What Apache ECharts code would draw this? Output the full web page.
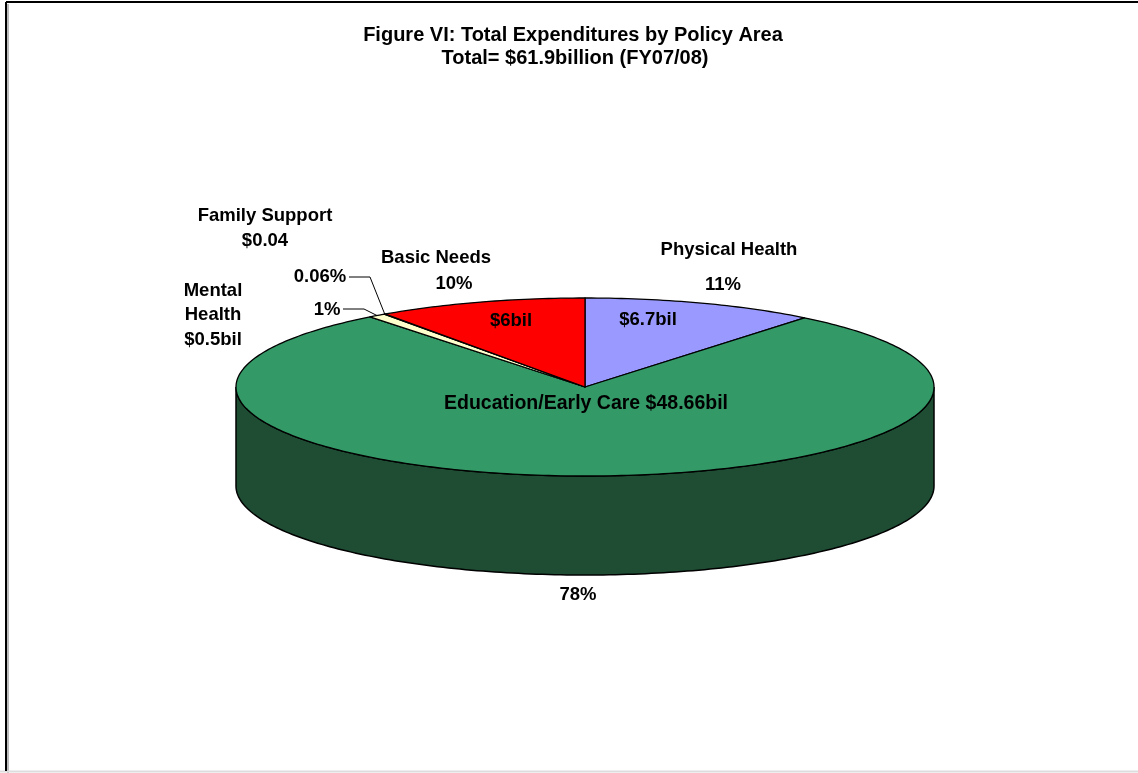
<!DOCTYPE html>
<html>
<head>
<meta charset="utf-8">
<title>Total Expenditures by Policy Area</title>
<script src="https://cdn.jsdelivr.net/npm/echarts@6/dist/echarts.min.js"></script>
<style>
  html, body { margin: 0; padding: 0; background: #ffffff; }
  #chart { width: 1138px; height: 773px; }
</style>
</head>
<body>
<div id="chart"></div>
<script>
// Policy areas, in clockwise order starting at 12 o'clock
const categories = ['Physical Health', 'Education/Early Care', 'Mental Health', 'Family Support', 'Basic Needs'];
// Expenditures in billions of dollars
const values = [6.7, 48.66, 0.5, 0.04, 6];
// Percent labels as printed on the chart
const percentLabels = ['11%', '78%', '1%', '0.06%', '10%'];
// Amount labels as printed on the chart
const amountLabels = ['$6.7bil', '$48.66bil', '$0.5bil', '$0.04', '$6bil'];

const topColors = ['#9999FF', '#339966', '#FFFFCC', '#993366', '#FF0000'];
const sideColors = ['#4D4D80', '#1E4D34', '#80805F', '#4D1A33', '#800000'];

// Pie geometry (tilted ellipse with depth)
const CX = 585, CY = 387, RX = 349, RY = 89, DEPTH = 99;
const total = values.reduce((a, b) => a + b, 0);

// angle is clockwise from 12 o'clock, radians
function rim(theta, dy) {
  return [CX + RX * Math.sin(theta), CY - RY * Math.cos(theta) + (dy || 0)];
}
function arc(a0, a1, dy) {
  const pts = [];
  const n = Math.max(2, Math.ceil(Math.abs(a1 - a0) / (Math.PI / 180)));
  for (let i = 0; i <= n; i++) pts.push(rim(a0 + (a1 - a0) * i / n, dy));
  return pts;
}

// data rows: [value, cumulative value before this slice]
const rows = [];
let acc = 0;
values.forEach(v => { rows.push([v, acc]); acc += v; });

function sliceAngles(api) {
  const v = api.value(0), before = api.value(1);
  return [before / total * Math.PI * 2, (before + v) / total * Math.PI * 2];
}

function renderSide(params, api) {
  const [a0, a1] = sliceAngles(api);
  const s = Math.max(a0, Math.PI / 2), e = Math.min(a1, Math.PI * 1.5);
  if (s >= e) return null;
  const pts = arc(s, e, 0).concat(arc(e, s, DEPTH));
  return {
    type: 'polygon',
    shape: { points: pts },
    style: { fill: sideColors[params.dataIndex], stroke: '#000000', lineWidth: 1.5 }
  };
}

function renderTop(params, api) {
  const [a0, a1] = sliceAngles(api);
  const pts = [[CX, CY]].concat(arc(a0, a1, 0));
  return {
    type: 'polygon',
    shape: { points: pts },
    style: { fill: topColors[params.dataIndex], stroke: '#000000', lineWidth: 1.3, lineJoin: 'round' }
  };
}

// leader line anchors on the rim for the two thin slices
function midAngle(i) {
  return (rows[i][1] + rows[i][0] / 2) / total * Math.PI * 2;
}
const famAnchor = rim(midAngle(3));
const mentAnchor = rim(midAngle(2));

const FONT = '"Liberation Sans", Arial, sans-serif';
function label(x, y, text, size) {
  return {
    type: 'text', x: x, y: y, z: 100,
    style: {
      text: text, fill: '#000000', font: 'bold ' + (size || 18.5) + 'px ' + FONT,
      align: 'center', verticalAlign: 'middle', lineHeight: 24.5
    }
  };
}

const chart = echarts.init(document.getElementById('chart'), null, { renderer: 'canvas' });
chart.setOption({
  backgroundColor: '#ffffff',
  animation: false,
  series: [
    { type: 'custom', coordinateSystem: 'none', z: 1, data: rows, renderItem: renderSide, silent: true },
    { type: 'custom', coordinateSystem: 'none', z: 2, data: rows, renderItem: renderTop, silent: true }
  ],
  graphic: [
    // frame
    { type: 'line', shape: { x1: 8, y1: 4, x2: 8, y2: 773 }, style: { stroke: '#bbbbbb', lineWidth: 2 } },
    { type: 'line', shape: { x1: 0, y1: 771.5, x2: 1138, y2: 771.5 }, style: { stroke: '#dddddd', lineWidth: 2 } },
    { type: 'line', shape: { x1: 6, y1: 2, x2: 1138, y2: 2 }, style: { stroke: '#000000', lineWidth: 2 } },
    { type: 'line', shape: { x1: 6, y1: 2, x2: 6, y2: 771 }, style: { stroke: '#000000', lineWidth: 2 } },

    // title
    label(573, 35, 'Figure VI: Total Expenditures by Policy Area', 20),
    label(575, 58, 'Total= $61.9billion (FY07/08)', 20),

    // slice labels
    label(729, 250, categories[0]),
    label(723, 285, percentLabels[0]),
    label(648, 320, amountLabels[0]),

    label(586, 404, categories[1] + ' ' + amountLabels[1], 19.5),
    label(578, 595, percentLabels[1]),

    label(436, 258, categories[4]),
    label(454, 284, percentLabels[4]),
    label(511, 321, amountLabels[4]),

    label(265, 216, categories[3]),
    label(265, 241, amountLabels[3]),
    label(320, 277, percentLabels[3]),

    label(213, 315, 'Mental\nHealth\n' + amountLabels[2]),
    label(327, 310, percentLabels[2]),

    // leader lines
    { type: 'polyline', z: 99, shape: { points: [[349, 277], [370, 277], famAnchor] }, style: { stroke: '#000000', lineWidth: 1, fill: null } },
    { type: 'polyline', z: 99, shape: { points: [[343, 309], [364, 309], mentAnchor] }, style: { stroke: '#000000', lineWidth: 1, fill: null } }
  ]
});
</script>
</body>
</html>
